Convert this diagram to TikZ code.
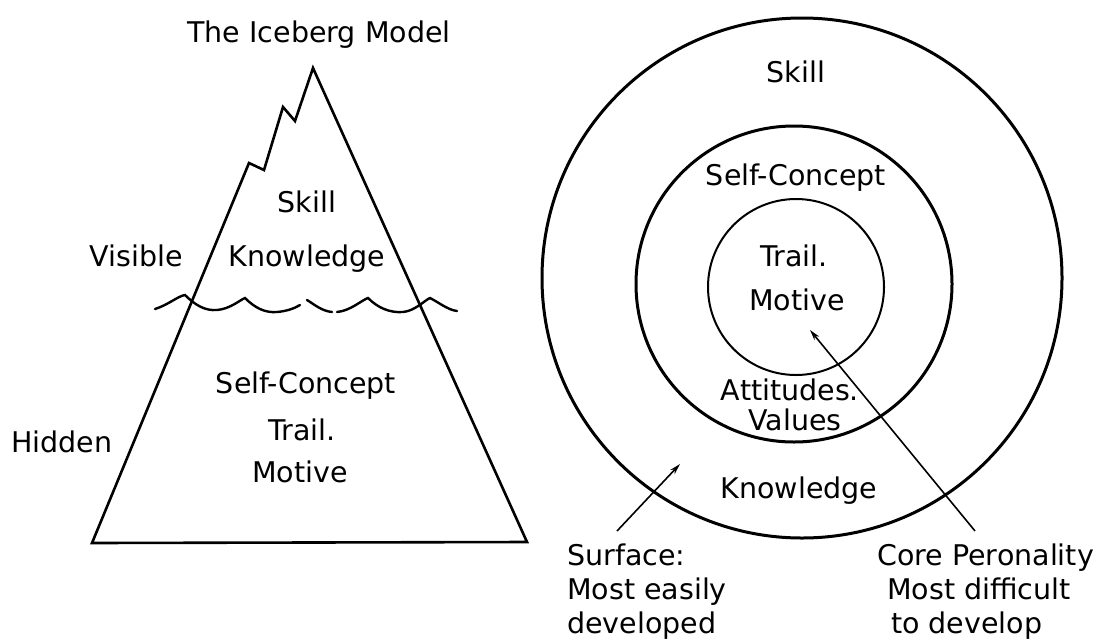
\documentclass[tikz,border=0pt]{standalone}
\usepackage{fontspec}
\setmainfont{DejaVu Sans}
\usetikzlibrary{arrows.meta}
\tikzset{
  lbl/.style={inner sep=0pt, font={\fontsize{28.5}{34}\selectfont}},
  berg/.style={line width=2.6pt, line join=miter},
  wave/.style={line width=2.4pt, line cap=round},
  ring/.style={line width=3pt},
  ringthin/.style={line width=2pt},
  ptr/.style={line width=1.6pt, -{Stealth[length=11pt,width=6pt]}}
}
\begin{document}
\begin{tikzpicture}[x=1pt,y=-1pt]
\useasboundingbox (0,0) rectangle (1105,643);
% Iceberg
\draw[berg] (92,543) -- (249,163) -- (264,170) -- (283,107) -- (295,121) -- (313,68) -- (527,542) -- cycle;
% water line
\draw[wave] (155,309) .. controls (168,305) and (178,296) .. (185,295)
  .. controls (195,305) and (205,311) .. (217,310)
  .. controls (230,309) and (240,300) .. (245,298)
  .. controls (255,308) and (265,313) .. (277,312)
  .. controls (288,311) and (295,308) .. (300,305);
\draw[wave] (307,300) .. controls (315,305) and (322,311) .. (332,312);
\draw[wave] (337,312) .. controls (350,311) and (362,300) .. (368,298)
  .. controls (378,308) and (390,313) .. (403,312)
  .. controls (415,311) and (425,300) .. (430,298)
  .. controls (438,302) and (448,310) .. (457,311);
% iceberg texts
\node[lbl, anchor=base] (title) at (319,42) {The Iceberg Model};
\node[lbl, anchor=base] (bskill) at (307,212) {Skill};
\node[lbl, anchor=base] (bknow) at (307,266) {Knowledge};
\node[lbl, anchor=base east] (visible) at (183,266) {Visible};
\node[lbl, anchor=base] (bself) at (306,393) {Self-Concept};
\node[lbl, anchor=base] (btrail) at (302,440) {Trail.};
\node[lbl, anchor=base] (bmotive) at (300,482) {Motive};
\node[lbl, anchor=base west] (hidden) at (11,452) {Hidden};
% circles
\draw[ring] (802,278) circle (260);
\draw[ring] (794,284) circle (158);
\draw[ringthin] (796,287) circle (88);
% circle texts
\node[lbl, anchor=base] (cskill) at (796,82) {Skill};
\node[lbl, anchor=base] (cself) at (796,185) {Self-Concept};
\node[lbl, anchor=base] (ctrail) at (794,266) {Trail.};
\node[lbl, anchor=base] (cmotive) at (797,310) {Motive};
\node[lbl, anchor=base] (catt) at (790,400) {Attitudes.};
\node[lbl, anchor=base] (cval) at (795,430) {Values};
\node[lbl, anchor=base] (cknow) at (799,498) {Knowledge};
\node[lbl, anchor=base west, align=left] (surface) at (567,633) {Surface:\\Most easily\\developed};
\node[lbl, anchor=base west, align=left] (core) at (877,633) {Core Peronality\\\hspace*{10pt}Most difficult\\\hspace*{14pt}to develop};
% arrows
\coordinate (s0) at (617,531);
\coordinate (s1) at (680,464);
\coordinate (c0) at (975,531);
\coordinate (c1) at (810,330);
\draw[ptr] (s0) -- (s1);
\draw[ptr] (c0) -- (c1);
\end{tikzpicture}
\end{document}
